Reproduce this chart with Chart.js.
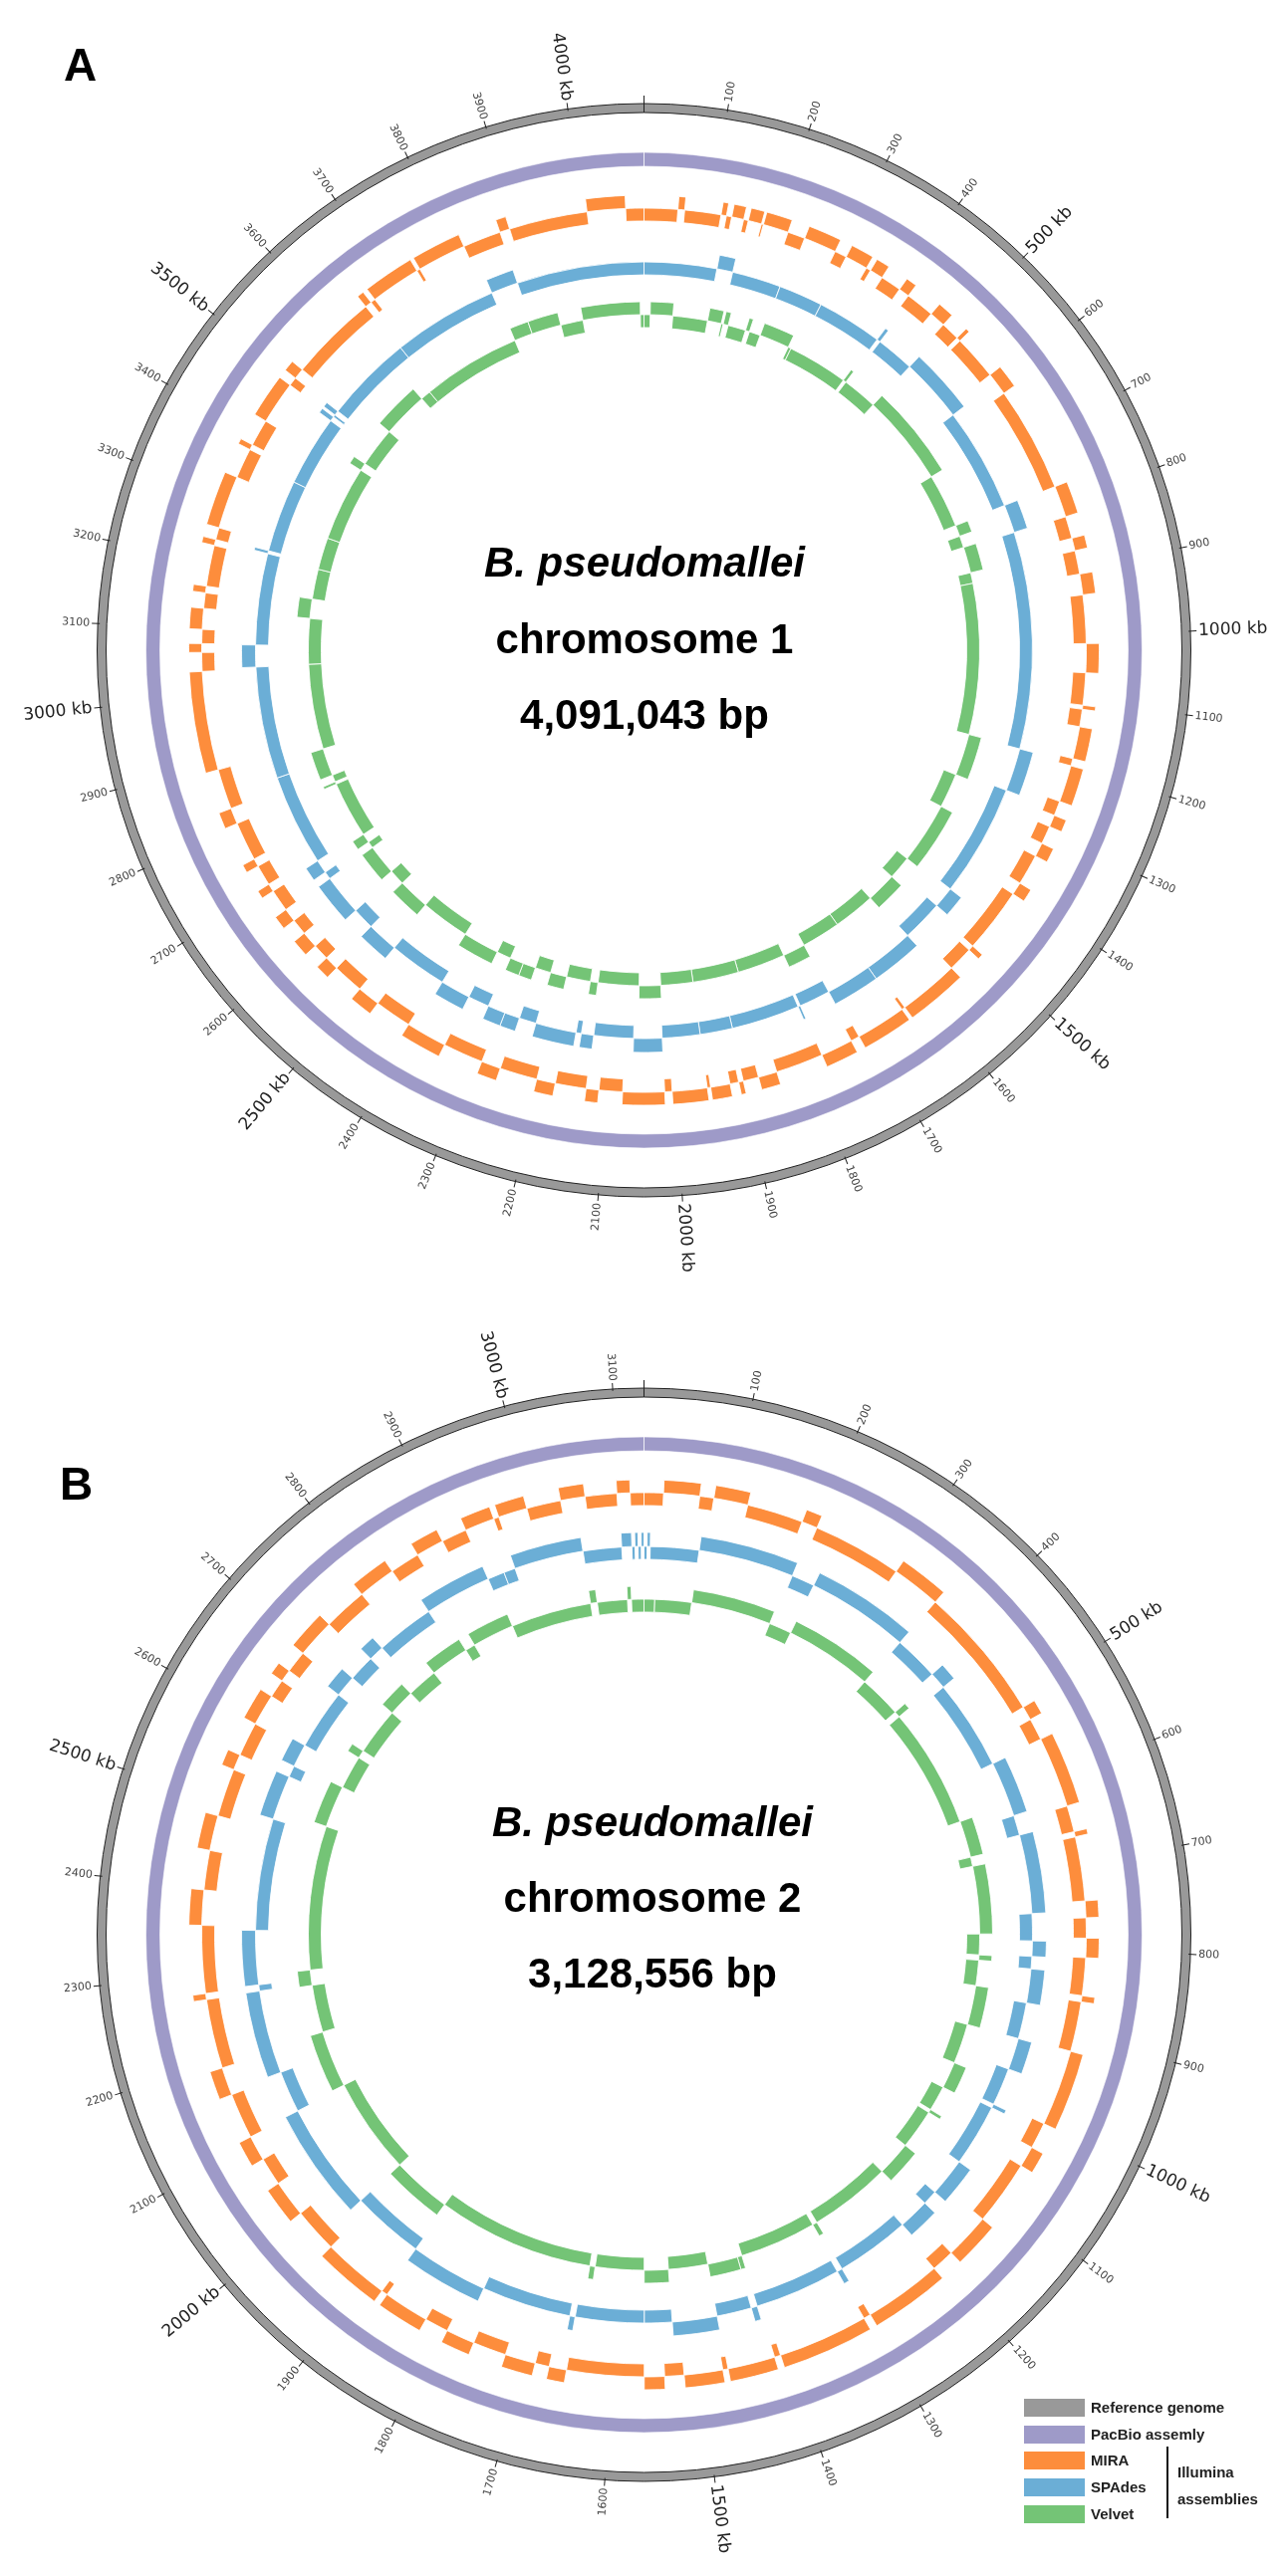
<!DOCTYPE html>
<html>
<head>
<meta charset="utf-8">
<title>B. pseudomallei assemblies</title>
<script src="https://cdn.jsdelivr.net/npm/chart.js@4.4.1/dist/chart.umd.min.js"></script>
<style>
  html, body { margin: 0; padding: 0; background: #fff; }
  body { position: relative; width: 1293px; height: 2587px; overflow: hidden;
         font-family: "Liberation Sans", Arial, sans-serif; }
  canvas { position: absolute; left: 0; }
  #chartA { top: 0; }
  #chartB { top: 1303px; }
  .txt { position: absolute; font-weight: bold; line-height: 1; white-space: nowrap; color: #000; }
  .center { width: 600px; text-align: center; font-size: 42px; }
  .panel { font-size: 46px; }
  .sw { position: absolute; left: 1028px; width: 61px; height: 18px; }
  .lg { position: absolute; left: 1095px; font-size: 15px; font-weight: bold; line-height: 1; color: #222; white-space: nowrap; }
</style>
</head>
<body>
<canvas id="chartA" width="1293" height="1306"></canvas>
<canvas id="chartB" width="1293" height="1280"></canvas>

<div class="txt panel" style="left:64px; top:42px;">A</div>
<div class="txt panel" style="left:60px; top:1467px;">B</div>

<div class="txt center" style="left:347px; top:544px; font-style:italic;">B. pseudomallei</div>
<div class="txt center" style="left:347px; top:621px;">chromosome 1</div>
<div class="txt center" style="left:347px; top:697px;">4,091,043 bp</div>

<div class="txt center" style="left:355px; top:1809px; font-style:italic;">B. pseudomallei</div>
<div class="txt center" style="left:355px; top:1885px;">chromosome 2</div>
<div class="txt center" style="left:355px; top:1961px;">3,128,556 bp</div>

<div id="legend"></div>
<div style="position:absolute; left:1171px; top:2457px; width:2px; height:72px; background:#111;"></div>
<div class="lg" style="left:1182px; top:2475px;">Illumina</div>
<div class="lg" style="left:1182px; top:2502px;">assemblies</div>

<script>
// ゲノム長 (kb)
const genomeA = 4091.043;
const genomeB = 3128.556;

// 色
const refColor = "#999999";
const pacbioColor = "#9e9ac8";
const miraColor = "#fd8d3c";
const spadesColor = "#6baed6";
const velvetColor = "#74c476";

// contig end positions (kb) and level (1 = outer track, 0 = inner track)
// chromosome 1
const miraAEnds = [50, 60, 114, 122, 130, 148, 155, 175, 178, 216, 242, 291, 309, 343, 350, 370, 401, 417, 460, 484,
  512, 518, 585, 619, 776, 823, 856, 875, 910, 941, 1013, 1056, 1104, 1110, 1136, 1184, 1195, 1250, 1272, 1290,
  1317, 1338, 1384, 1403, 1500, 1508, 1545, 1635, 1640, 1715, 1728, 1776, 1847, 1875, 1898, 1905, 1918, 1947, 1952, 2004,
  2015, 2077, 2112, 2131, 2177, 2205, 2261, 2290, 2350, 2411, 2466, 2500, 2546, 2567, 2591, 2616, 2640, 2660, 2693, 2705,
  2736, 2748, 2806, 2830, 2890, 3037, 3065, 3078, 3099, 3130, 3153, 3163, 3224, 3233, 3251, 3330, 3375, 3383, 3423, 3487,
  3500, 3516, 3648, 3658, 3665, 3740, 3745, 3818, 3875, 3890, 4007, 4064, 4091.043];
const miraALevels = [0, 1, 0, 1, 0, 1, 0, 1, 0, 1, 0, 1, 0, 1, 0, 1, 0, 1, 0, 1,
  0, 1, 0, 1, 0, 1, 0, 1, 0, 1, 0, 1, 0, 1, 0, 1, 0, 1, 0, 1,
  0, 1, 0, 1, 0, 1, 0, 1, 0, 1, 0, 1, 0, 1, 0, 1, 0, 1, 0, 1,
  0, 1, 0, 1, 0, 1, 0, 1, 0, 1, 0, 1, 0, 1, 0, 1, 0, 1, 0, 1,
  0, 1, 0, 1, 0, 1, 0, 1, 0, 1, 0, 1, 0, 1, 0, 1, 0, 1, 0, 1,
  0, 1, 0, 1, 0, 1, 0, 1, 0, 1, 0, 1, 0];

const spadesAEnds = [123, 150, 233, 308, 419, 425, 490, 599, 774, 822, 1190, 1263, 1454, 1490, 1560, 1645, 1723, 1776, 1780, 1896,
  1951, 2015, 2063, 2130, 2151, 2160, 2229, 2258, 2284, 2314, 2350, 2401, 2500, 2553, 2590, 2659, 2672, 2695, 2850, 3040,
  3077, 3232, 3237, 3360, 3480, 3488, 3492, 3500, 3650, 3829, 3875, 4091.043];
const spadesALevels = [0, 1, 0, 0, 0, 1, 0, 1, 0, 1, 0, 1, 0, 1, 0, 1, 1, 0, 1, 0,
  0, 0, 1, 0, 1, 0, 1, 0, 1, 1, 0, 1, 0, 1, 0, 1, 0, 1, 0, 0,
  1, 0, 1, 0, 0, 1, 0, 1, 0, 0, 1, 0];

const velvetAEnds = [12, 56, 124, 151, 155, 165, 200, 208, 230, 289, 295, 414, 420, 489, 669, 775, 797, 820, 871, 892,
  1188, 1270, 1338, 1459, 1505, 1564, 1646, 1722, 1766, 1860, 1950, 2013, 2055, 2135, 2150, 2197, 2229, 2260, 2285, 2312,
  2340, 2411, 2507, 2569, 2600, 2659, 2672, 2690, 2801, 2806, 2820, 2874, 3041, 3130, 3168, 3227, 3290, 3437, 3452, 3530,
  3620, 3640, 3834, 3870, 3928, 3972, 4084, 4091.043];
const velvetALevels = [0, 1, 0, 1, 0, 1, 0, 1, 0, 1, 0, 0, 1, 0, 1, 0, 1, 0, 1, 0,
  0, 1, 0, 1, 0, 1, 0, 0, 1, 0, 0, 0, 1, 0, 1, 0, 1, 0, 1, 1,
  0, 1, 0, 1, 0, 1, 0, 1, 0, 1, 0, 1, 0, 0, 1, 0, 0, 0, 1, 0,
  1, 0, 0, 1, 1, 0, 1, 0];

// chromosome 2
const miraBEnds = [22, 63, 79, 118, 182, 200, 302, 358, 513, 529, 554, 635, 665, 671, 744, 763, 786, 808, 851, 858,
  915, 1002, 1032, 1056, 1130, 1182, 1208, 1297, 1305, 1408, 1415, 1469, 1475, 1519, 1541, 1564, 1652, 1672, 1688, 1723,
  1761, 1794, 1821, 1873, 1880, 1956, 2007, 2049, 2081, 2110, 2162, 2194, 2273, 2280, 2357, 2397, 2442, 2482, 2537, 2555,
  2594, 2630, 2651, 2665, 2690, 2734, 2784, 2827, 2861, 2893, 2922, 2956, 2962, 2995, 3034, 3062, 3098, 3113, 3128.556];
const miraBLevels = [0, 1, 0, 1, 0, 1, 0, 1, 0, 1, 0, 1, 0, 1, 0, 1, 0, 1, 0, 1,
  0, 1, 0, 1, 0, 1, 0, 1, 0, 1, 0, 1, 0, 1, 0, 1, 0, 1, 0, 1,
  0, 1, 0, 1, 0, 1, 0, 1, 0, 1, 0, 1, 0, 1, 0, 1, 0, 1, 0, 1,
  0, 1, 0, 1, 0, 1, 0, 1, 0, 1, 0, 1, 0, 1, 0, 1, 0, 1, 0];

const spadesBEnds = [4, 8, 71, 195, 225, 358, 416, 438, 555, 627, 653, 755, 790, 810, 826, 870, 917, 958, 1007, 1012,
  1093, 1143, 1162, 1202, 1298, 1305, 1417, 1425, 1470, 1528, 1564, 1653, 1660, 1776, 1877, 1971, 2112, 2166, 2274, 2282,
  2352, 2497, 2555, 2570, 2600, 2678, 2706, 2740, 2760, 2836, 2923, 2945, 2960, 3050, 3100, 3113, 3117, 3121, 3125, 3128.556];
const spadesBLevels = [0, 1, 0, 1, 0, 1, 0, 1, 0, 1, 0, 1, 0, 1, 0, 1, 0, 1, 0, 1,
  0, 1, 0, 1, 0, 1, 0, 1, 0, 1, 0, 0, 1, 0, 1, 0, 1, 0, 1, 0,
  1, 0, 1, 0, 1, 0, 1, 0, 1, 0, 1, 0, 0, 1, 0, 1, 0, 1, 0, 1];

const velvetBEnds = [16, 71, 191, 225, 357, 421, 430, 611, 666, 680, 781, 812, 820, 858, 917, 977, 1017, 1055, 1060, 1120,
  1172, 1295, 1302, 1417, 1424, 1469, 1528, 1564, 1637, 1645, 1881, 1970, 2115, 2200, 2271, 2294, 2510, 2573, 2623, 2635,
  2706, 2746, 2792, 2850, 2865, 2928, 3049, 3059, 3104, 3110, 3128.556];
const velvetBLevels = [0, 0, 1, 0, 1, 0, 1, 0, 1, 0, 1, 0, 1, 0, 1, 0, 1, 0, 1, 0,
  1, 0, 1, 0, 1, 1, 0, 1, 0, 1, 0, 1, 0, 1, 0, 1, 0, 1, 0, 1,
  0, 1, 0, 1, 0, 1, 0, 1, 0, 1, 0];

// 凡例
const legendLabels = ["Reference genome", "PacBio assemly", "MIRA", "SPAdes", "Velvet"];
const legendColors = [refColor, pacbioColor, miraColor, spadesColor, velvetColor];

// 凡例を描く
const legendTops = [2409, 2436, 2462, 2489, 2516];
const legendBox = document.getElementById("legend");
legendLabels.forEach((label, i) => {
  const sw = document.createElement("div");
  sw.className = "sw";
  sw.style.top = legendTops[i] + "px";
  sw.style.background = legendColors[i];
  legendBox.appendChild(sw);
  const t = document.createElement("div");
  t.className = "lg";
  t.style.top = legendTops[i] + 1 + "px";
  t.textContent = label;
  legendBox.appendChild(t);
});

const clear = "rgba(0,0,0,0)";

// 空白リング
function spacer(weight) {
  return { data: [1], backgroundColor: [clear], borderWidth: 0, weight: weight };
}

// contigを外側・内側の2トラックに分ける
function contigRings(ends, levels, color) {
  const lengths = ends.map((e, i) => e - (i === 0 ? 0 : ends[i - 1]));
  const track = (lvl) => ({
    data: lengths,
    backgroundColor: levels.map((l) => (l === lvl ? color : clear)),
    borderColor: "rgba(255,255,255,0.85)",
    borderWidth: levels.map((l) => (l === lvl ? 1 : 0)),
    weight: 13,
  });
  return [track(1), track(0)];
}

// 目盛りとラベル
const genomeTicks = {
  id: "genomeTicks",
  afterDatasetsDraw(chart, args, opts) {
    const arc = chart.getDatasetMeta(0).data[0];
    const cx = arc.x;
    const cy = arc.y;
    const R = arc.outerRadius;
    const ctx = chart.ctx;
    ctx.save();
    ctx.strokeStyle = "#222";
    ctx.lineWidth = 1;
    for (let kb = 0; kb < opts.total; kb += 100) {
      const frac = kb / opts.total;
      const ang = frac * 2 * Math.PI - Math.PI / 2;
      ctx.save();
      ctx.translate(cx, cy);
      ctx.rotate(ang);
      ctx.beginPath();
      ctx.moveTo(kb === 0 ? R - 9 : R - 2, 0);
      ctx.lineTo(R + (kb === 0 ? 8 : 6), 0);
      ctx.stroke();
      if (kb > 0) {
        const major = kb % 500 === 0;
        const label = major ? kb + " kb" : String(kb);
        ctx.font = major ? '17px "DejaVu Sans", sans-serif' : '11px "DejaVu Sans", sans-serif';
        ctx.fillStyle = major ? "#222" : "#444";
        ctx.textBaseline = "middle";
        if (frac <= 0.5) {
          ctx.textAlign = "left";
          ctx.fillText(label, R + 8, 0);
        } else {
          ctx.rotate(Math.PI);
          ctx.textAlign = "right";
          ctx.fillText(label, -(R + 8), 0);
        }
      }
      ctx.restore();
    }
    ctx.restore();
  },
};

function drawGenome(canvasId, total, mira, spades, velvet) {
  const datasets = [
    { data: [total], backgroundColor: [refColor], borderColor: "#222", borderWidth: 1, weight: 9 },
    spacer(40),
    { data: [total], backgroundColor: [pacbioColor], borderColor: "rgba(255,255,255,0.6)", borderWidth: 1, weight: 14 },
    spacer(29),
    ...contigRings(mira[0], mira[1], miraColor),
    spacer(27),
    ...contigRings(spades[0], spades[1], spadesColor),
    spacer(27),
    ...contigRings(velvet[0], velvet[1], velvetColor),
  ];
  // spades outer track is one pixel thicker
  datasets[7].weight = 14;

  return new Chart(document.getElementById(canvasId), {
    type: "doughnut",
    data: { datasets: datasets },
    options: {
      responsive: false,
      animation: false,
      events: [],
      radius: 549,
      cutout: (324 / 549) * 100 + "%",
      rotation: 0,
      circumference: 360,
      layout: { padding: 0 },
      plugins: {
        legend: { display: false },
        tooltip: { enabled: false },
        genomeTicks: { total: total },
      },
    },
    plugins: [genomeTicks],
  });
}

drawGenome("chartA", genomeA, [miraAEnds, miraALevels], [spadesAEnds, spadesALevels], [velvetAEnds, velvetALevels]);
drawGenome("chartB", genomeB, [miraBEnds, miraBLevels], [spadesBEnds, spadesBLevels], [velvetBEnds, velvetBLevels]);
</script>
</body>
</html>
